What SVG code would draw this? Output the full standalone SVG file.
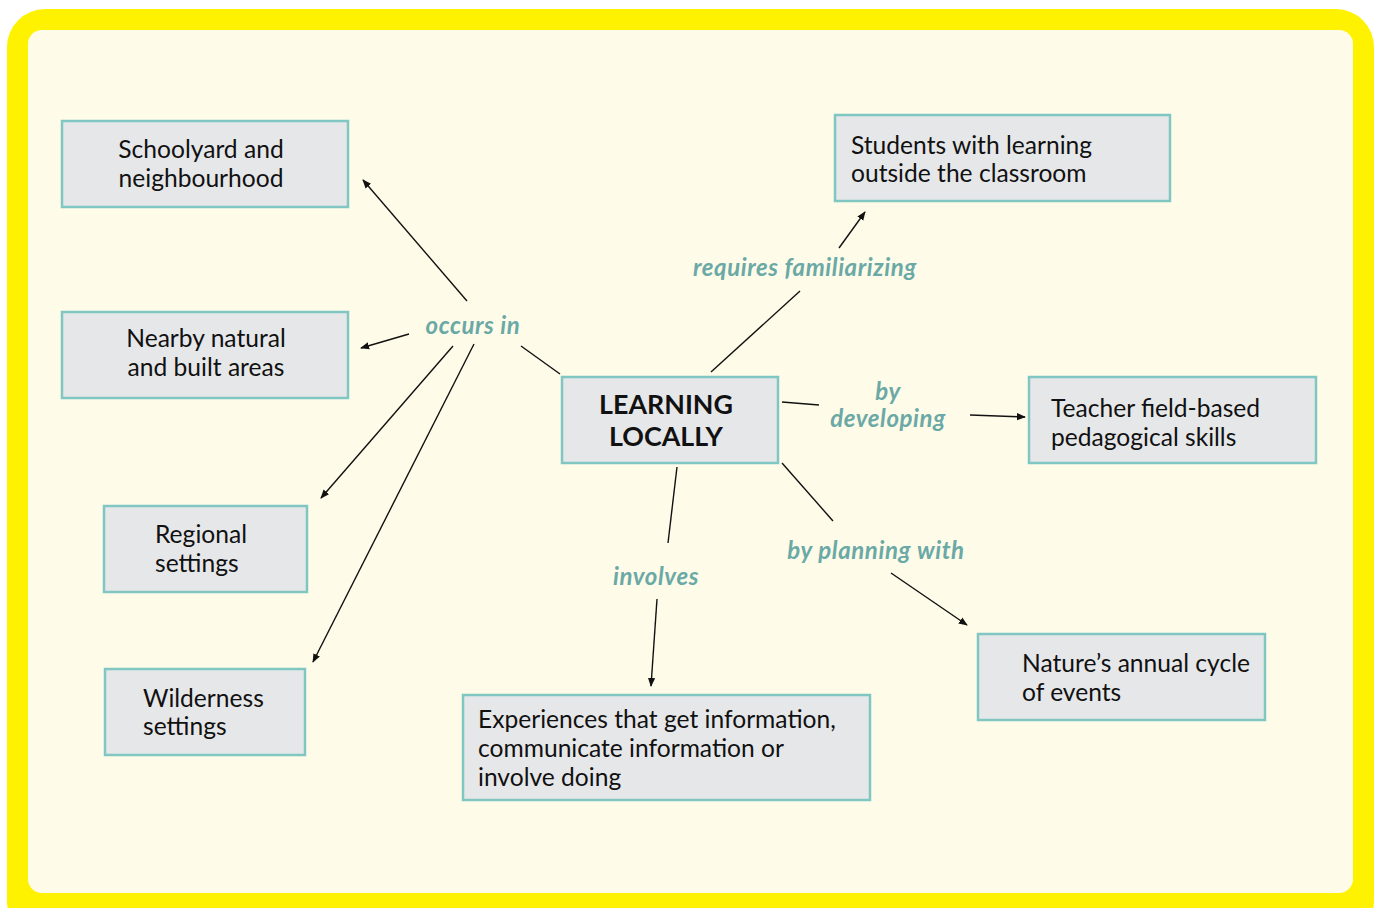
<svg xmlns="http://www.w3.org/2000/svg" width="1381" height="908" viewBox="0 0 1381 908">
<defs>
<style>
.box{fill:#E6E7E9;stroke:#80C6C2;stroke-width:2.5}
.t{font-family:Lato,"Liberation Sans",sans-serif;font-size:24.6px;fill:#111}
.b{font-family:Lato,"Liberation Sans",sans-serif;font-size:26.8px;font-weight:bold;fill:#111}
.lab{font-family:Lato,"Liberation Sans",sans-serif;font-size:24px;font-weight:bold;font-style:italic;fill:#6AA9A5;letter-spacing:0.6px}
.c line{stroke:#111;stroke-width:1.4}
.a{marker-end:url(#ah)}
</style>
<marker id="ah" viewBox="0 0 10 10" refX="9" refY="5" markerWidth="9" markerHeight="9" markerUnits="userSpaceOnUse" orient="auto">
<path d="M0,1 L10,5 L0,9 z" fill="#111"/>
</marker>
</defs>
<rect x="7" y="9" width="1367" height="930" rx="38" fill="#FFF200"/>
<rect x="28" y="30" width="1325" height="863" rx="14" fill="#FEFBE9"/>

<g class="c" id="connectors">
<line x1="467" y1="301" x2="363" y2="180" class="a"/>
<line x1="409" y1="334" x2="361" y2="348" class="a"/>
<line x1="453" y1="346" x2="321" y2="498" class="a"/>
<line x1="474" y1="344" x2="313" y2="662" class="a"/>
<line x1="560" y1="374" x2="521" y2="346"/>
<line x1="711" y1="372" x2="800" y2="291"/>
<line x1="839" y1="248" x2="865" y2="212" class="a"/>
<line x1="782" y1="402" x2="819" y2="405"/>
<line x1="970" y1="415" x2="1025" y2="417" class="a"/>
<line x1="782" y1="463" x2="833" y2="521"/>
<line x1="891" y1="573" x2="967" y2="625" class="a"/>
<line x1="677" y1="467" x2="668" y2="543"/>
<line x1="657" y1="599" x2="651" y2="686" class="a"/>
</g>

<g id="labels">
<text class="lab" x="473" y="334" text-anchor="middle">occurs in</text>
<text class="lab" x="805" y="276" text-anchor="middle">requires familiarizing</text>
<text class="lab" x="888" y="400" text-anchor="middle">by</text>
<text class="lab" x="888" y="427" text-anchor="middle">developing</text>
<text class="lab" x="876" y="559" text-anchor="middle">by planning with</text>
<text class="lab" x="656" y="585" text-anchor="middle">involves</text>
</g>

<g id="n-schoolyard">
<rect class="box" x="62" y="121" width="286" height="86"/>
<text class="t" x="201" y="158" text-anchor="middle">Schoolyard and</text>
<text class="t" x="201" y="187" text-anchor="middle">neighbourhood</text>
</g>
<g id="n-nearby">
<rect class="box" x="62" y="312" width="286" height="86"/>
<text class="t" x="206" y="347" text-anchor="middle">Nearby natural</text>
<text class="t" x="206" y="376" text-anchor="middle">and built areas</text>
</g>
<g id="n-regional">
<rect class="box" x="104" y="506" width="203" height="86"/>
<text class="t" x="155" y="543">Regional</text>
<text class="t" x="155" y="572">settings</text>
</g>
<g id="n-wilderness">
<rect class="box" x="105" y="669" width="200" height="86"/>
<text class="t" x="143" y="707">Wilderness</text>
<text class="t" x="143" y="735">settings</text>
</g>
<g id="n-center">
<rect class="box" x="562" y="377" width="216" height="86"/>
<text class="b" x="666" y="414" text-anchor="middle">LEARNING</text>
<text class="b" x="666" y="446" text-anchor="middle">LOCALLY</text>
</g>
<g id="n-students">
<rect class="box" x="835" y="115" width="335" height="86"/>
<text class="t" x="851" y="154">Students with learning</text>
<text class="t" x="851" y="182">outside the classroom</text>
</g>
<g id="n-teacher">
<rect class="box" x="1029" y="377" width="287" height="86"/>
<text class="t" x="1051" y="417">Teacher field-based</text>
<text class="t" x="1051" y="446">pedagogical skills</text>
</g>
<g id="n-nature">
<rect class="box" x="978" y="634" width="287" height="86"/>
<text class="t" x="1022" y="672">Nature’s annual cycle</text>
<text class="t" x="1022" y="701">of events</text>
</g>
<g id="n-experiences">
<rect class="box" x="463" y="695" width="407" height="105"/>
<text class="t" x="478" y="728">Experiences that get information,</text>
<text class="t" x="478" y="757">communicate information or</text>
<text class="t" x="478" y="786">involve doing</text>
</g>
</svg>
